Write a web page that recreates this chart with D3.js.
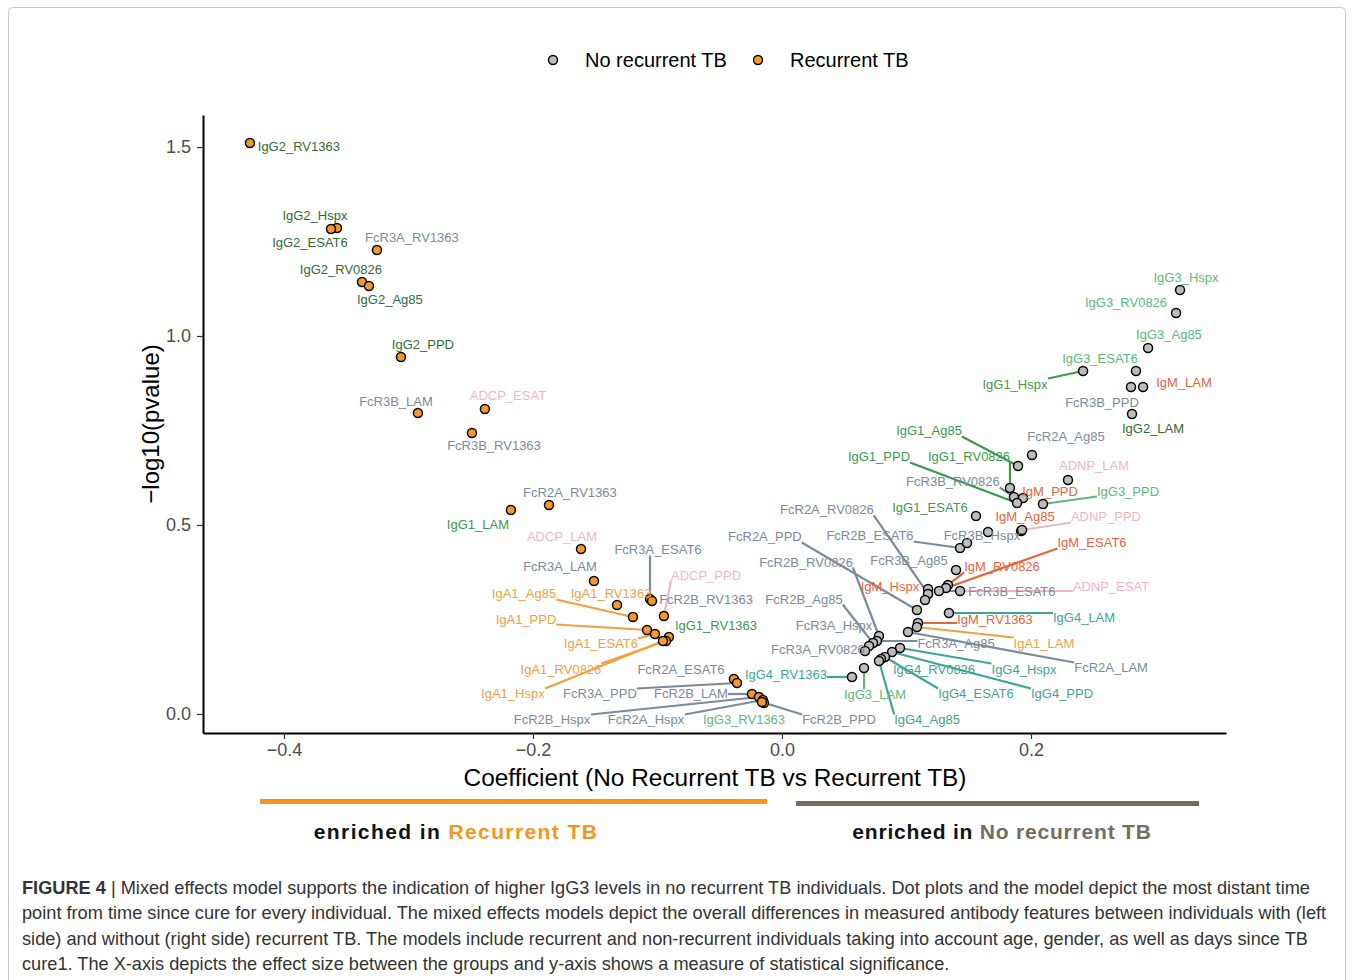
<!DOCTYPE html>
<html>
<head>
<meta charset="utf-8">
<script src="https://cdnjs.cloudflare.com/ajax/libs/d3/7.8.5/d3.min.js"></script>
<style>
  body { margin: 0; background: #fff; font-family: "Liberation Sans", Arial, sans-serif; }
</style>
</head>
<body>
<div class="figure"></div>
<script>
// features, one per point
var features = [
  "IgG2_RV1363","IgG2_Hspx","IgG2_ESAT6","FcR3A_RV1363","IgG2_RV0826","IgG2_Ag85","IgG2_PPD",
  "FcR3B_LAM","ADCP_ESAT","FcR3B_RV1363","FcR2A_RV1363","IgG1_LAM","ADCP_LAM","FcR3A_LAM",
  "FcR3A_ESAT6","ADCP_PPD","IgA1_RV1363","FcR2B_RV1363","IgA1_Ag85","IgA1_PPD","IgA1_ESAT6",
  "IgG1_RV1363","IgA1_RV0826","IgA1_Hspx","FcR2A_ESAT6","FcR3A_PPD","FcR2B_LAM","FcR2B_Hspx",
  "FcR2A_Hspx","IgG3_RV1363","FcR2B_PPD",
  "IgG3_Hspx","IgG3_RV0826","IgG3_Ag85","IgG3_ESAT6","IgG1_Hspx","IgM_LAM","FcR3B_PPD","IgG2_LAM",
  "FcR2A_Ag85","IgG1_Ag85","ADNP_LAM","IgG1_RV0826","FcR3B_RV0826","IgM_PPD","IgG1_PPD","IgG3_PPD",
  "IgG1_ESAT6","IgM_Ag85","ADNP_PPD","FcR3B_Hspx","FcR2B_ESAT6","","FcR3B_Ag85","IgM_RV0826",
  "IgM_ESAT6","FcR3B_ESAT6","ADNP_ESAT","IgM_Hspx","FcR2A_RV0826","","FcR2A_PPD","IgG4_LAM",
  "IgM_RV1363","IgA1_LAM","FcR2A_LAM","FcR2B_RV0826","FcR3A_Ag85","FcR2B_Ag85","FcR3A_Hspx",
  "FcR3A_RV0826","IgG4_Hspx","IgG4_PPD","IgG4_ESAT6","IgG4_RV0826","IgG4_Ag85","IgG3_LAM","IgG4_RV1363"
];

var coefficient = [
  -0.4273,-0.3574,-0.3622,-0.3253,-0.3373,-0.3317,-0.3060,
  -0.2924,-0.2386,-0.2490,-0.1871,-0.2177,-0.1614,-0.1510,
  -0.1060,-0.0948,-0.1325,-0.1044,-0.1197,-0.1084,-0.1020,
  -0.0908,-0.0932,-0.0956,-0.0386,-0.0361,-0.0241,-0.0185,
  -0.0153,-0.0145,-0.0161,
  0.3197,0.3165,0.2940,0.2843,0.2418,0.2900,0.2803,0.2811,
  0.2008,0.1896,0.2297,0.1831,0.1863,0.1936,0.1888,0.2096,
  0.1558,0.1920,0.1928,0.1655,0.1430,0.1486,0.1398,0.1333,
  0.1317,0.1261,0.1430,0.1173,0.1173,0.1149,0.1084,0.1341,
  0.1092,0.1084,0.1012,0.0779,0.0763,0.0731,0.0699,
  0.0667,0.0948,0.0884,0.0827,0.0795,0.0779,0.0659,0.0562
];

var negLog10P = [
  1.5106,1.2857,1.2831,1.2275,1.1429,1.1323,0.9444,
  0.7963,0.8069,0.7434,0.5529,0.5397,0.4365,0.3519,
  0.3042,0.2593,0.2884,0.2989,0.2566,0.2222,0.2116,
  0.2037,0.1931,0.1931,0.0926,0.0820,0.0529,0.0450,
  0.0370,0.0291,0.0317,
  1.1217,1.0608,0.9683,0.9074,0.9074,0.8651,0.8651,0.7937,
  0.6852,0.6561,0.6190,0.5979,0.5741,0.5714,0.5582,0.5556,
  0.5238,0.4841,0.4868,0.4815,0.4392,0.4524,0.3810,0.3413,
  0.3333,0.3254,0.3254,0.3307,0.3175,0.3016,0.2751,0.2672,
  0.2407,0.2302,0.2169,0.2063,0.1931,0.1878,0.1799,
  0.1667,0.1746,0.1640,0.1508,0.1455,0.1402,0.1217,0.0979
];

// where each repelled label sits, in data units (null = label dropped)
var labelCoef = [
  -0.3880,-0.3751,-0.3791,-0.2972,-0.3542,-0.3149,-0.2884,
  -0.3100,-0.2201,-0.2313,-0.1703,-0.2442,-0.1767,-0.1783,
  -0.0996,-0.0610,-0.1373,-0.0610,-0.2072,-0.2056,-0.1454,
  -0.0530,-0.1775,-0.2161,-0.0811,-0.1462,-0.0731,-0.1847,
  -0.1092,-0.0305,0.0458,
  0.3245,0.2763,0.3108,0.2554,0.1871,0.3229,0.2570,0.2980,
  0.2281,0.1181,0.2506,0.1502,0.1373,0.2153,0.0779,0.2779,
  0.1189,0.1952,0.2602,0.1606,0.0707,null,0.1020,0.1767,
  0.2490,0.1847,0.2643,0.0867,0.0361,null,-0.0137,0.2426,
  0.1711,0.2104,0.2643,0.0193,0.1398,0.0177,0.0418,
  0.0289,0.1944,0.2249,0.1558,0.1221,0.1165,0.0747,0.0032
];

var labelLogP = [
  1.5026,1.3201,1.2487,1.2593,1.1772,1.0979,0.9788,
  0.8280,0.8413,0.7090,0.5847,0.5026,0.4683,0.3889,
  0.4339,0.3677,0.3175,0.3016,0.3175,0.2513,0.1852,
  0.2328,0.1190,0.0529,0.1190,0.0529,0.0529,-0.0159,
  -0.0159,-0.0159,-0.0159,
  1.1561,1.0899,1.0053,0.9392,0.8730,0.8757,0.8254,0.7566,
  0.7354,0.7487,0.6587,0.6825,0.6138,0.5899,0.6799,0.5899,
  0.5450,0.5212,0.5212,0.4735,0.4709,null,0.4048,0.3889,
  0.4524,0.3228,0.3386,0.3360,0.5397,null,0.4683,0.2540,
  0.2513,0.1878,0.1217,0.4021,0.1878,0.3042,0.2354,
  0.1693,0.1190,0.0529,0.0529,0.1190,-0.0159,0.0503,0.1032
];

var groups = ["No recurrent TB", "Recurrent TB"];
var yTicks = [0, 0.5, 1.0, 1.5];
var xTicks = [-0.4, -0.2, 0.0, 0.2];

var typeColor = {
  IgG1: "#3d9a4b", IgG2: "#2f6b35", IgG3: "#5cb97b", IgG4: "#3ea596",
  IgA1: "#f2a03f", IgM: "#e8643b", ADCP: "#f6b4c1", ADNP: "#f6b4c1",
  FcR2A: "#7b8a9c", FcR2B: "#7b8a9c", FcR3A: "#7b8a9c", FcR3B: "#7b8a9c"
};
var groupColor = {"No recurrent TB": "#bdbdbd", "Recurrent TB": "#f2992e"};

var data = features.map(function(f, i) {
  return {
    name: f,
    coef: coefficient[i],
    p: negLog10P[i],
    group: coefficient[i] < 0 ? "Recurrent TB" : "No recurrent TB",
    lx: labelCoef[i],
    ly: labelLogP[i]
  };
});

var svgWidth = 1354;
var svgHeight = 980;

var svg = d3.select(".figure")
  .append("svg")
  .attr("width", svgWidth)
  .attr("height", svgHeight);

// frame around the figure
svg.append("rect")
  .attr("x", 8.5).attr("y", 7.5)
  .attr("width", 1337).attr("height", 1000)
  .attr("rx", 4)
  .attr("fill", "none")
  .attr("stroke", "#c8c8c8");

var xScale = d3.scaleLinear().domain([-0.465, 0.3566]).range([203, 1226]);
var yScale = d3.scaleLinear().domain([-0.0503, 1.5847]).range([733, 115]);

// axes
var leftAxis = d3.axisLeft(yScale).tickValues(yTicks).tickFormat(d3.format(".1f")).tickSize(6).tickSizeOuter(0);
var bottomAxis = d3.axisBottom(xScale).tickValues(xTicks).tickFormat(d3.format(".1f")).tickSize(6).tickSizeOuter(0);

var gy = svg.append("g").attr("transform", "translate(203,0)").call(leftAxis);
var gx = svg.append("g").attr("transform", "translate(0,733)").call(bottomAxis);

[gx, gy].forEach(function(g) {
  g.select(".domain").attr("stroke", "#000").attr("stroke-width", 2);
  g.selectAll(".tick line").attr("stroke", "#333").attr("stroke-width", 1.2);
  g.selectAll(".tick text")
    .attr("fill", "#4d4d4d")
    .style("font-family", "'Liberation Sans', Arial, sans-serif")
    .style("font-size", "18px");
});
gy.selectAll(".tick text").attr("x", -12);
gx.selectAll(".tick text").attr("y", 10);

svg.append("text")
  .attr("transform", "translate(150,424) rotate(-90)")
  .attr("text-anchor", "middle")
  .attr("dominant-baseline", "central")
  .style("font-size", "24px")
  .text("\u2212log10(pvalue)");

svg.append("text")
  .attr("x", 715).attr("y", 786)
  .attr("text-anchor", "middle")
  .style("font-size", "24.4px")
  .text("Coefficient (No Recurrent TB vs Recurrent TB)");

// legend
var legendX = [553, 758];
groups.forEach(function(g, i) {
  svg.append("circle")
    .attr("cx", legendX[i]).attr("cy", 60).attr("r", 4.5)
    .attr("fill", groupColor[g]).attr("stroke", "#000").attr("stroke-width", 1.4);
  svg.append("text")
    .attr("x", legendX[i] + 32).attr("y", 67)
    .style("font-size", "20px")
    .text(g);
});

// label segments, points, labels
var chart = svg.append("g").attr("id", "chart");
var segLayer = chart.append("g");
var pointLayer = chart.append("g");
var labelLayer = chart.append("g");

var labelled = data.filter(function(d) { return d.lx !== null; });

var labels = labelLayer.selectAll("text")
  .data(labelled)
  .enter()
  .append("text")
  .attr("x", function(d) { return xScale(d.lx); })
  .attr("y", function(d) { return yScale(d.ly); })
  .attr("text-anchor", "middle")
  .attr("dominant-baseline", "central")
  .attr("fill", function(d) { return typeColor[d.name.split("_")[0]]; })
  .style("font-size", "13px")
  .text(function(d) { return d.name; });

labels.each(function(d) {
  var b = this.getBBox();
  var px = xScale(d.coef), py = yScale(d.p);
  var cx = Math.max(b.x, Math.min(px, b.x + b.width));
  var cy = Math.max(b.y + 2, Math.min(py, b.y + b.height - 2));
  var dist = Math.hypot(px - cx, py - cy);
  if (dist > 17) {
    segLayer.append("line")
      .attr("x1", cx).attr("y1", cy)
      .attr("x2", px).attr("y2", py)
      .attr("stroke", typeColor[d.name.split("_")[0]])
      .attr("stroke-width", 2.2);
  }
});

pointLayer.selectAll("circle")
  .data(data)
  .enter()
  .append("circle")
  .attr("cx", function(d) { return xScale(d.coef); })
  .attr("cy", function(d) { return yScale(d.p); })
  .attr("r", 4.5)
  .attr("fill", function(d) { return groupColor[d.group]; })
  .attr("stroke", "#000")
  .attr("stroke-width", 1.5);

// enrichment bars under the x axis
svg.append("rect").attr("x", 260).attr("y", 799).attr("width", 507).attr("height", 5).attr("fill", "#f7941e");
svg.append("rect").attr("x", 796).attr("y", 801).attr("width", 403).attr("height", 5).attr("fill", "#766b60");

var left = svg.append("text")
  .attr("x", 456).attr("y", 839)
  .attr("text-anchor", "middle")
  .style("font-size", "21px").style("font-weight", "bold").style("letter-spacing", "1.4px");
left.append("tspan").attr("fill", "#111").text("enriched in ");
left.append("tspan").attr("fill", "#f7941e").text("Recurrent TB");

var right = svg.append("text")
  .attr("x", 1002).attr("y", 839)
  .attr("text-anchor", "middle")
  .style("font-size", "21px").style("font-weight", "bold").style("letter-spacing", "0.8px");
right.append("tspan").attr("fill", "#111").text("enriched in ");
right.append("tspan").attr("fill", "#766b60").text("No recurrent TB");

// caption
var captionLines = [
  "Mixed effects model supports the indication of higher IgG3 levels in no recurrent TB individuals. Dot plots and the model depict the most distant time",
  "point from time since cure for every individual. The mixed effects models depict the overall differences in measured antibody features between individuals with (left",
  "side) and without (right side) recurrent TB. The models include recurrent and non-recurrent individuals taking into account age, gender, as well as days since TB",
  "cure1. The X-axis depicts the effect size between the groups and y-axis shows a measure of statistical significance."
];

captionLines.forEach(function(line, i) {
  var t = svg.append("text")
    .attr("x", 22).attr("y", 894 + i * 25.3)
    .attr("fill", "#333")
    .style("font-size", "18.2px");
  if (i === 0) {
    t.append("tspan").style("font-weight", "bold").text("FIGURE 4");
    t.append("tspan").text(" | " + line);
  } else {
    t.text(line);
  }
});
</script>
</body>
</html>
